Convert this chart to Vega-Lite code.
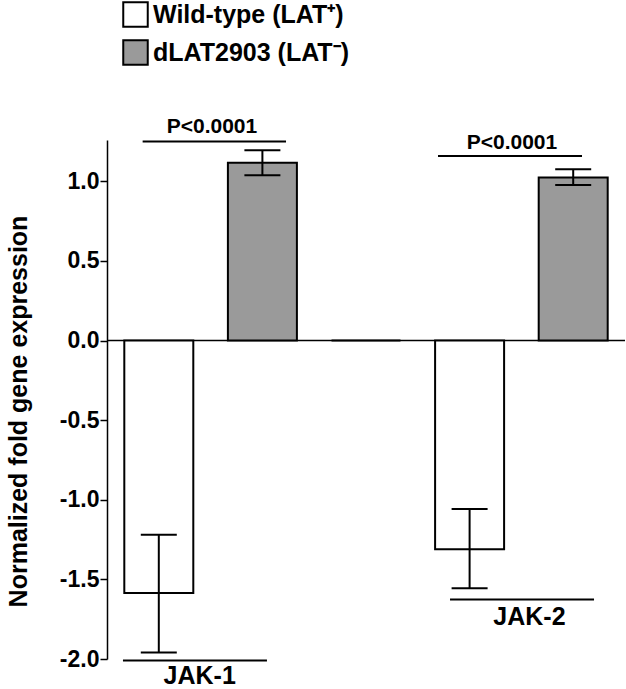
{
  "$schema": "https://vega.github.io/schema/vega-lite/v6.json",
  "width": 518,
  "height": 519,
  "autosize": {"type": "none"},
  "padding": {"left": 107, "top": 140, "right": 1, "bottom": 30},
  "config": {
    "view": {"stroke": null},
    "font": "Liberation Sans",
    "axisY": {
      "domainColor": "black", "domainWidth": 1.5,
      "tickColor": "black", "tickWidth": 1.5, "tickSize": 7,
      "labelFont": "Liberation Sans", "labelFontSize": 23, "labelFontWeight": "bold", "labelColor": "black", "labelPadding": 1,
      "titleFont": "Liberation Sans", "titleFontSize": 25, "titleFontWeight": "bold", "titleColor": "black", "titlePadding": 28,
      "grid": false
    },
    "legend": {
      "labelFont": "Liberation Sans", "labelFontSize": 25, "labelFontWeight": "bold", "labelColor": "black", "labelLimit": 400
    }
  },
  "datasets": {
    "bars": [
      {"slot": "JAK-1 WT", "group": "Wild-type (LAT⁺)", "value": -1.586, "lo": -1.959, "hi": -1.219},
      {"slot": "JAK-1 dLAT", "group": "dLAT2903 (LAT⁻)", "value": 1.117, "lo": 1.038, "hi": 1.195},
      {"slot": "gap", "group": "", "value": 0, "lo": 0, "hi": 0},
      {"slot": "JAK-2 WT", "group": "Wild-type (LAT⁺)", "value": -1.310, "lo": -1.555, "hi": -1.058},
      {"slot": "JAK-2 dLAT", "group": "dLAT2903 (LAT⁻)", "value": 1.025, "lo": 0.977, "hi": 1.077}
    ],
    "lines": [
      {"kind": "sig", "from": 0.344, "to": 1.728, "y": 1.251},
      {"kind": "sig", "from": 3.195, "to": 4.585, "y": 1.159},
      {"kind": "cat", "from": 0.154, "to": 1.544, "y": -2.009},
      {"kind": "cat", "from": 3.311, "to": 4.701, "y": -1.626}
    ],
    "labels": [
      {"kind": "sig", "label": "P<0.0001", "x": 1.013, "y": 1.303},
      {"kind": "sig", "label": "P<0.0001", "x": 3.909, "y": 1.205},
      {"kind": "cat", "label": "JAK-1", "x": 0.895, "y": -2.155},
      {"kind": "cat", "label": "JAK-2", "x": 4.078, "y": -1.789}
    ]
  },
  "layer": [
    {
      "data": {"values": [{"z": 0}]},
      "mark": {"type": "rule", "color": "black", "strokeWidth": 1.5},
      "encoding": {
        "y": {
          "field": "z", "type": "quantitative",
          "scale": {"domain": [-2, 1.26], "nice": false},
          "title": "Normalized fold gene expression",
          "axis": {
            "values": [-2, -1.5, -1, -0.5, 0, 0.5, 1],
            "labelExpr": "(datum.value < 0 ? '-' : '') + format(abs(datum.value), '.1f')",
            "titleY": 271
          }
        }
      }
    },
    {
      "data": {"name": "bars"},
      "encoding": {
        "x": {
          "field": "slot", "type": "nominal",
          "sort": ["JAK-1 WT", "JAK-1 dLAT", "gap", "JAK-2 WT", "JAK-2 dLAT"],
          "scale": {"paddingInner": 0.334, "paddingOuter": 0.167},
          "axis": null
        }
      },
      "layer": [
        {
          "transform": [{"filter": "datum.group != ''"}],
          "mark": {"type": "bar", "stroke": "black", "strokeWidth": 2},
          "encoding": {
            "y": {
              "field": "value", "type": "quantitative",
              "scale": {"domain": [-2, 1.26], "nice": false},
              "title": "Normalized fold gene expression",
              "axis": {
                "values": [-2, -1.5, -1, -0.5, 0, 0.5, 1],
                "labelExpr": "(datum.value < 0 ? '-' : '') + format(abs(datum.value), '.1f')",
                "titleY": 271
              }
            },
            "y2": {"datum": 0},
            "fill": {
              "field": "group", "type": "nominal",
              "scale": {"domain": ["Wild-type (LAT⁺)", "dLAT2903 (LAT⁻)"], "range": ["#ffffff", "#9a9a9a"]},
              "legend": {
                "orient": "none", "legendX": 15, "legendY": -139, "title": null,
                "symbolType": "square", "symbolSize": 600, "symbolStrokeColor": "black", "symbolStrokeWidth": 2,
                "rowPadding": 5, "labelOffset": 4, "padding": 0, "symbolOpacity": 1
              }
            }
          }
        },
        {
          "transform": [{"filter": "datum.group == ''"}],
          "mark": {"type": "bar", "fill": "white", "stroke": "black", "strokeWidth": 2},
          "encoding": {
            "y": {"field": "value", "type": "quantitative", "title": "Normalized fold gene expression"},
            "y2": {"datum": 0}
          }
        },
        {
          "transform": [{"filter": "datum.group != ''"}],
          "mark": {"type": "rule", "color": "black", "strokeWidth": 2},
          "encoding": {
            "y": {"field": "lo", "type": "quantitative", "title": "Normalized fold gene expression"},
            "y2": {"field": "hi"}
          }
        },
        {
          "transform": [{"filter": "datum.group != ''"}],
          "mark": {"type": "tick", "color": "black", "thickness": 2, "size": 36, "opacity": 1},
          "encoding": {"y": {"field": "lo", "type": "quantitative", "title": "Normalized fold gene expression"}}
        },
        {
          "transform": [{"filter": "datum.group != ''"}],
          "mark": {"type": "tick", "color": "black", "thickness": 2, "size": 36, "opacity": 1},
          "encoding": {"y": {"field": "hi", "type": "quantitative", "title": "Normalized fold gene expression"}}
        }
      ]
    },
    {
      "layer": [
        {
          "data": {"name": "lines"},
          "mark": {"type": "rule", "color": "black", "strokeWidth": 2},
          "encoding": {
            "x": {"field": "from", "type": "quantitative", "scale": {"domain": [0, 5], "nice": false, "zero": false}, "axis": null},
            "x2": {"field": "to"},
            "y": {"field": "y", "type": "quantitative", "title": "Normalized fold gene expression"}
          }
        },
        {
          "data": {"name": "labels"},
          "transform": [{"filter": "datum.kind == 'sig'"}],
          "mark": {"type": "text", "font": "Liberation Sans", "fontWeight": "bold", "fontSize": 21, "align": "center", "baseline": "alphabetic", "color": "black"},
          "encoding": {
            "x": {"field": "x", "type": "quantitative", "scale": {"domain": [0, 5], "nice": false, "zero": false}, "axis": null},
            "y": {"field": "y", "type": "quantitative", "title": "Normalized fold gene expression"},
            "text": {"field": "label"}
          }
        },
        {
          "data": {"name": "labels"},
          "transform": [{"filter": "datum.kind == 'cat'"}],
          "mark": {"type": "text", "font": "Liberation Sans", "fontWeight": "bold", "fontSize": 25, "align": "center", "baseline": "alphabetic", "color": "black"},
          "encoding": {
            "x": {"field": "x", "type": "quantitative", "scale": {"domain": [0, 5], "nice": false, "zero": false}, "axis": null},
            "y": {"field": "y", "type": "quantitative", "title": "Normalized fold gene expression"},
            "text": {"field": "label"}
          }
        }
      ]
    }
  ],
  "resolve": {"scale": {"x": "independent"}}
}
